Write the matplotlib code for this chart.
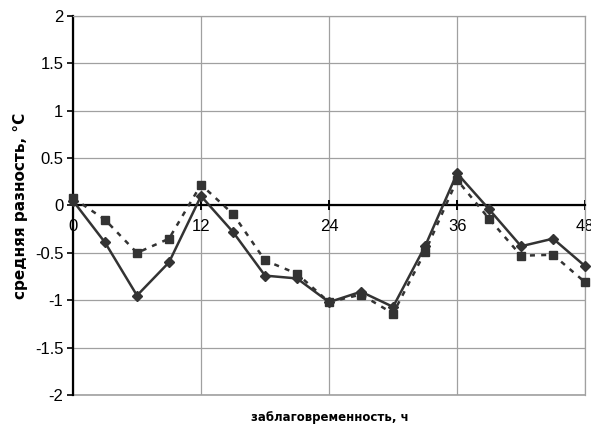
import matplotlib
matplotlib.use("Agg")
import matplotlib.pyplot as plt

# заблаговременность, ч
lead_hours = [0, 3, 6, 9, 12, 15, 18, 21, 24, 27, 30, 33, 36, 39, 42, 45, 48]

# средняя разность, °C
series_solid = [0.05, -0.39, -0.95, -0.60, 0.10, -0.28, -0.74, -0.77, -1.02,
                -0.91, -1.07, -0.43, 0.34, -0.04, -0.43, -0.35, -0.64]
series_dotted = [0.08, -0.15, -0.50, -0.35, 0.22, -0.09, -0.58, -0.72, -1.02,
                 -0.94, -1.14, -0.49, 0.27, -0.14, -0.53, -0.52, -0.81]

x_ticks = [0, 12, 24, 36, 48]
y_ticks = [-2, -1.5, -1, -0.5, 0, 0.5, 1, 1.5, 2]

plt.rcParams['font.family'] = ['Liberation Sans', 'DejaVu Sans']
plt.rcParams['axes.unicode_minus'] = False

fig = plt.figure(figsize=(5.91, 4.34), dpi=100)
ax = fig.add_axes([0.1235, 0.0899, 0.8665, 0.8732])

line_col = "#333333"
ax.plot(lead_hours, series_solid, color=line_col, lw=1.8, marker='D',
        markersize=5, zorder=4, clip_on=False)
ax.plot(lead_hours, series_dotted, color=line_col, lw=1.8, linestyle=(0, (2, 2.5)),
        marker='s', markersize=5.5, zorder=3, clip_on=False)

ax.set_xlim(0, 48)
ax.set_ylim(-2, 2)
ax.set_xticks(x_ticks)
ax.set_yticks(y_ticks)
ax.set_yticklabels([f"{v:g}" for v in y_ticks])

ax.grid(True, color="#a0a0a0", lw=0.9, zorder=0)
ax.set_axisbelow(True)

# ось x пересекает ось y в нуле
ax.spines['bottom'].set_position(('data', 0))
ax.spines['bottom'].set_linewidth(1.6)
ax.spines['left'].set_linewidth(1.6)
for side in ('top', 'right'):
    ax.spines[side].set_color("#a0a0a0")
    ax.spines[side].set_linewidth(0.9)
ax.axhline(-2, color="#a0a0a0", lw=1.2, zorder=0, clip_on=False)

ax.tick_params(axis='x', direction='inout', length=7, width=1.4, labelsize=12, pad=6)
ax.tick_params(axis='y', direction='out', length=4, width=1.2, labelsize=12, pad=3)

ax.set_ylabel("средняя разность, °C", family='DejaVu Sans', fontsize=11,
              fontweight='bold', labelpad=5)
fig.text(0.558, 0.037, "заблаговременность, ч", family='DejaVu Sans', fontsize=8.5,
         fontweight='bold', ha='center', va='center')

fig.savefig("out.png", dpi=100)
